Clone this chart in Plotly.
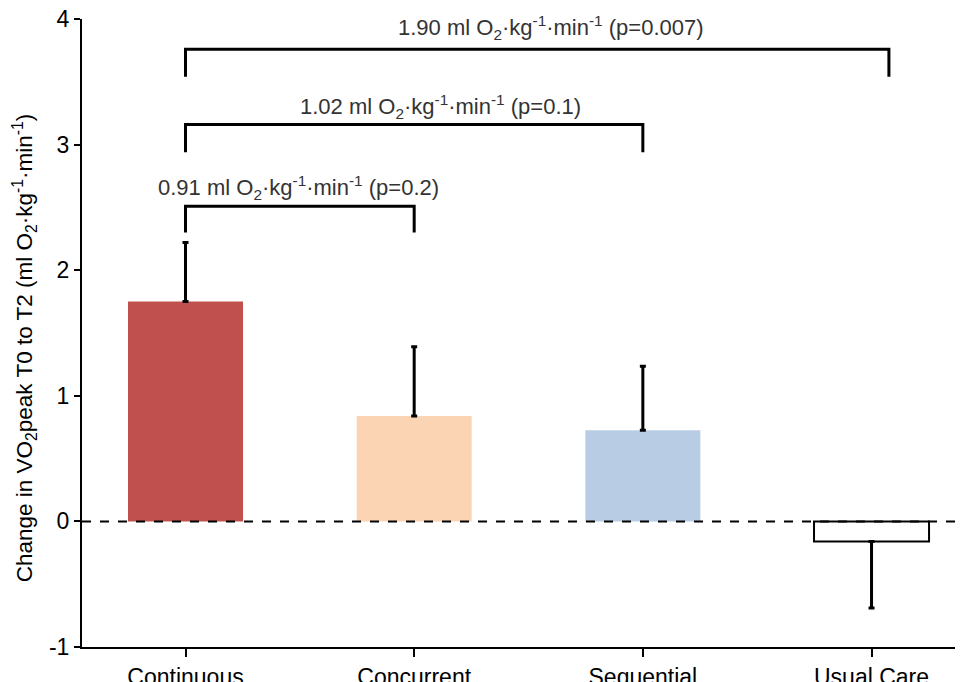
import plotly.graph_objects as go

categories = ["Continuous", "Concurrent", "Sequential", "Usual Care"]
means = [1.75, 0.84, 0.725, -0.16]
err_up = [0.47, 0.55, 0.51, 0.0]
err_down = [0.0, 0.0, 0.0, 0.53]
bar_colors = ["#C0504D", "#FBD4B4", "#B8CCE4", "#FFFFFF"]
bar_line_w = [0, 0, 0, 2]
y_ticks = [-1, 0, 1, 2, 3, 4]
y_ticktext = ["-1", "0", "1", "2", "3", "4"]
y_title = "Change in VO<sub>2</sub>peak T0 to T2 (ml O<sub>2</sub>·kg<sup>-1</sup>·min<sup>-1</sup>)"

# comparison brackets
br_start = [0, 0, 0]
br_end = [1, 2, 3.076]
br_height = [2.51, 3.16, 3.76]
br_leg = [2.30, 2.94, 3.54]
br_label_x = [0.496, 1.117, 1.598]
br_label_y = [2.66, 3.30, 3.93]
unit = "ml O<sub>2</sub>·kg<sup>-1</sup>·min<sup>-1</sup>"
br_text = [f"0.91 {unit} (p=0.2)", f"1.02 {unit} (p=0.1)", f"1.90 {unit} (p=0.007)"]

xs = list(range(len(categories)))
FONT = "Liberation Sans, Arial, sans-serif"

fig = go.Figure()
fig.add_trace(go.Bar(
    x=xs, y=means, width=0.503,
    marker=dict(color=bar_colors, line=dict(color="black", width=bar_line_w)),
    error_y=dict(type="data", symmetric=False, array=err_up, arrayminus=err_down,
                 color="black", thickness=3, width=3),
    showlegend=False,
))

shapes = [dict(type="line", xref="paper", x0=0, x1=1, yref="y", y0=0, y1=0,
               line=dict(color="black", width=2, dash="dash"), layer="above")]
for s, e, h, l in zip(br_start, br_end, br_height, br_leg):
    shapes.append(dict(type="path", xref="x", yref="y",
                       path=f"M {s} {l} L {s} {h} L {e} {h} L {e} {l}",
                       line=dict(color="black", width=3)))

annotations = []
for x, y, t in zip(br_label_x, br_label_y, br_text):
    annotations.append(dict(x=x, y=y, xref="x", yref="y", text=t, showarrow=False,
                            font=dict(family=FONT, size=22, color="#333333")))
annotations.append(dict(x=0, xref="paper", xshift=-58, y=1.378, yref="y",
                        text=y_title, textangle=-90, showarrow=False,
                        xanchor="center", yanchor="middle",
                        font=dict(family=FONT, size=22.5, color="black")))

# page body has an 8px default margin, so the figure starts at (8, 8)
fig.update_layout(
    width=955, height=674,
    margin=dict(l=74, r=0, t=11, b=35),
    plot_bgcolor="white", paper_bgcolor="white",
    shapes=shapes, annotations=annotations,
    font=dict(family=FONT, color="black"),
    xaxis=dict(range=[-0.4526, 3.40], tickvals=xs, ticktext=categories,
               showline=True, linecolor="black", linewidth=2,
               ticks="outside", ticklen=8, tickwidth=2, tickcolor="black",
               showgrid=False, zeroline=False, automargin=False,
               ticklabeloverflow="allow",
               tickfont=dict(size=23, family=FONT, color="black")),
    yaxis=dict(range=[-1, 4], tickvals=y_ticks, ticktext=y_ticktext,
               showline=True, linecolor="black", linewidth=2,
               ticks="outside", ticklen=6, tickwidth=2, tickcolor="black",
               showgrid=False, zeroline=False, automargin=False,
               ticklabeloverflow="allow",
               tickfont=dict(size=23, family=FONT, color="black")),
)

fig.write_html("out.html")
